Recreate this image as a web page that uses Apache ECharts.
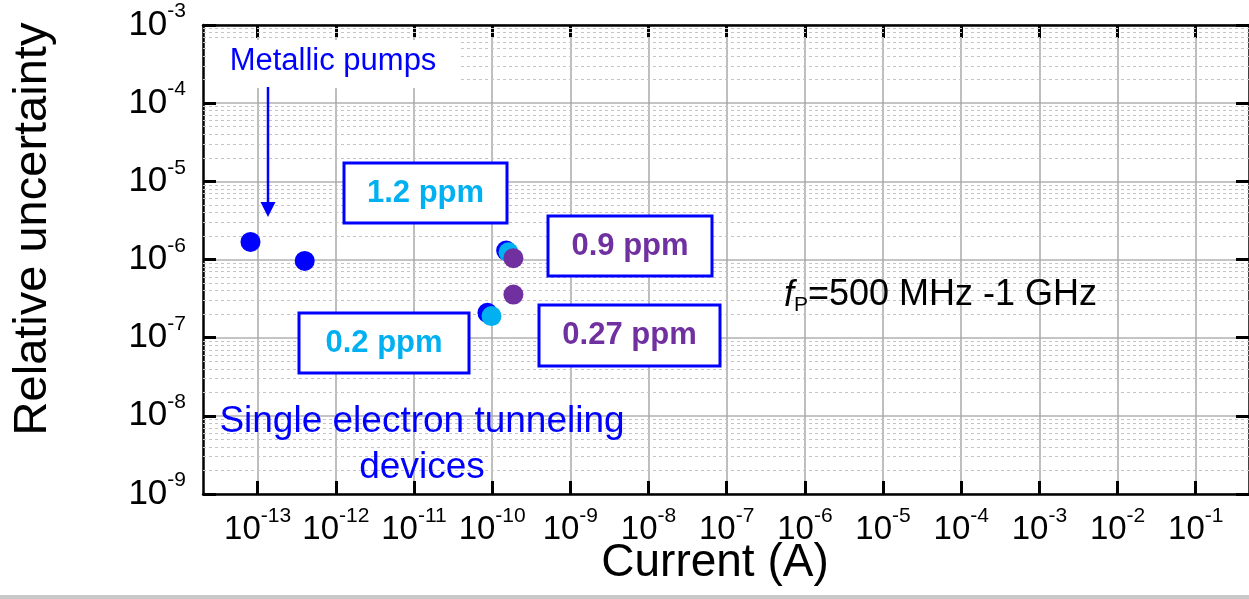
<!DOCTYPE html>
<html>
<head>
<meta charset="utf-8">
<script src="https://cdn.jsdelivr.net/npm/echarts@6/dist/echarts.min.js"></script>
<style>
html,body{margin:0;padding:0;background:#fff;}
#chart{width:1249px;height:599px;}
</style>
</head>
<body>
<div id="chart"></div>
<script>
// ---- data ----
const blueCurrent   = [8.1e-14, 4.0e-13, 1.51e-10, 8.7e-11];
const blueUncert    = [1.68e-6, 9.6e-7, 1.30e-6, 2.08e-7];
const cyanCurrent   = [1.62e-10, 9.8e-11];
const cyanUncert    = [1.24e-6, 1.89e-7];
const purpleCurrent = [1.87e-10, 1.87e-10];
const purpleUncert  = [1.04e-6, 3.56e-7];

const xMin = 2e-14, xMax = 0.48;
const yMin = 1e-9, yMax = 1e-3;
const xTickValues = [1e-13, 1e-12, 1e-11, 1e-10, 1e-9, 1e-8, 1e-7, 1e-6, 1e-5, 1e-4, 1e-3, 1e-2, 1e-1];
const minorFactors = [2, 3, 4, 5, 6, 7, 8, 9];
const yDecades = [-9, -8, -7, -6, -5, -4];

const boxLabels = ['1.2 ppm', '0.2 ppm', '0.9 ppm', '0.27 ppm'];
const xTitle = 'Current (A)';
const yTitle = 'Relative uncertainty';

const FONT = "'Liberation Sans', Arial, Helvetica, sans-serif";
const BLUE = '#0000ff', CYAN = '#00b0f0', PURPLE = '#7030a0';

function pairs(xs, ys) { return xs.map((x, i) => [x, ys[i]]); }
function powLabel(v) {
  const l = Math.log10(v);
  const e = Math.round(l);
  if (Math.abs(l - e) > 1e-6) return '';
  return '{b|10}{s|' + e + '}';
}
// dashed minor grid lines at 2..9 x 10^n, spanning the full x range
const minorLines = [];
yDecades.forEach(d => minorFactors.forEach(k => {
  const v = k * Math.pow(10, d);
  minorLines.push([{ coord: [xMin, v] }, { coord: [xMax, v] }]);
}));

function richFor(size) {
  return {
    b: { fontSize: size, fontFamily: FONT, color: '#000', lineHeight: 48 },
    s: { fontSize: 21, fontFamily: FONT, color: '#000', lineHeight: 21, verticalAlign: 'top' }
  };
}

const chart = echarts.init(document.getElementById('chart'), null, { renderer: 'canvas' });

function boxLabel(cx, cy, w, h, text, color) {
  return {
    type: 'group', z: 20,
    children: [
      { type: 'rect', z: 20, shape: { x: cx - w / 2, y: cy - h / 2, width: w, height: h },
        style: { fill: '#fff', stroke: BLUE, lineWidth: 3 } },
      { type: 'text', z: 21, x: cx, y: cy,
        style: { text: text, fill: color, font: 'bold 31px ' + FONT,
                 align: 'center', verticalAlign: 'middle', textAlign: 'center', textVerticalAlign: 'middle' } }
    ]
  };
}

const axisLineStyle = { show: true, onZero: false, lineStyle: { color: '#000', width: 2.5 } };
const tickStyle = { color: '#000', width: 3 };

const option = {
  animation: false,
  backgroundColor: '#fff',
  grid: { left: 203, top: 25, right: -2, bottom: 105, containLabel: false },
  xAxis: [
    {
      type: 'log', logBase: 10, min: xMin, max: xMax, position: 'bottom',
      axisLine: axisLineStyle,
      axisTick: { show: true, inside: true, length: 13, customValues: xTickValues, lineStyle: tickStyle },
      axisLabel: { show: true, margin: 12, customValues: xTickValues, formatter: powLabel, rich: richFor(33) },
      splitLine: { show: true, lineStyle: { color: '#a8a8a8', width: 1.5 } }
    },
    {
      type: 'log', logBase: 10, min: xMin, max: xMax, position: 'top',
      axisLine: axisLineStyle,
      axisTick: { show: true, inside: true, length: 13, customValues: xTickValues, lineStyle: tickStyle },
      axisLabel: { show: false },
      splitLine: { show: false }
    }
  ],
  yAxis: [
    {
      type: 'log', logBase: 10, min: yMin, max: yMax, interval: 1, position: 'left',
      axisLine: axisLineStyle,
      axisTick: { show: true, inside: true, length: 13, lineStyle: tickStyle },
      axisLabel: { show: true, margin: 17, formatter: powLabel, rich: richFor(35) },
      splitLine: { show: true, lineStyle: { color: '#b0b0b0', width: 1.5 } }
    },
    {
      type: 'log', logBase: 10, min: yMin, max: yMax, interval: 1, position: 'right',
      axisLine: axisLineStyle,
      axisTick: { show: true, inside: true, length: 13, lineStyle: tickStyle },
      axisLabel: { show: false },
      splitLine: { show: false }
    }
  ],
  series: [
    { name: 'blue', type: 'scatter', z: 10, symbolSize: 20,
      itemStyle: { color: BLUE, opacity: 1 }, data: pairs(blueCurrent, blueUncert),
      markLine: {
        z: 1, silent: true, symbol: ['none', 'none'], animation: false,
        label: { show: false },
        emphasis: { disabled: true },
        lineStyle: { color: '#c4c4c4', width: 1, type: [3, 3] },
        data: minorLines
      } },
    { name: 'cyan', type: 'scatter', z: 11, symbolSize: 20,
      itemStyle: { color: CYAN, opacity: 1 }, data: pairs(cyanCurrent, cyanUncert) },
    { name: 'purple', type: 'scatter', z: 12, symbolSize: 20,
      itemStyle: { color: PURPLE, opacity: 1 }, data: pairs(purpleCurrent, purpleUncert) }
  ],
  graphic: [
    { type: 'rect', z: 20, shape: { x: 207, y: 40, width: 251, height: 48 }, style: { fill: '#fff' } },
    { type: 'text', z: 21, x: 333, y: 61,
      style: { text: 'Metallic pumps', fill: BLUE, font: '31px ' + FONT,
               align: 'center', verticalAlign: 'middle', textAlign: 'center', textVerticalAlign: 'middle' } },
    { type: 'line', z: 21, shape: { x1: 268, y1: 87, x2: 268, y2: 204 }, style: { stroke: BLUE, lineWidth: 2.5 } },
    { type: 'polygon', z: 21, shape: { points: [[260.5, 202], [275.5, 202], [268, 217]] }, style: { fill: BLUE } },
    { type: 'text', z: 21, x: 422, y: 445,
      style: { text: 'Single electron tunneling\ndevices', fill: BLUE, font: '37px ' + FONT, lineHeight: 46,
               align: 'center', verticalAlign: 'middle', textAlign: 'center', textVerticalAlign: 'middle' } },
    boxLabel(425.5, 193, 163, 60, boxLabels[0], CYAN),
    boxLabel(384, 343, 170, 60, boxLabels[1], CYAN),
    boxLabel(630, 246, 164, 60, boxLabels[2], PURPLE),
    boxLabel(629.5, 335.5, 181, 61, boxLabels[3], PURPLE),
    { type: 'text', z: 21, x: 784, y: 295.5,
      style: {
        text: '{i|f}{sub|P}{n|=500 MHz -1 GHz}',
        align: 'left', verticalAlign: 'middle', textAlign: 'left', textVerticalAlign: 'middle',
        rich: {
          i: { fontStyle: 'italic', fontSize: 36, fontFamily: FONT, fill: '#000', lineHeight: 40 },
          sub: { fontSize: 21, fontFamily: FONT, fill: '#000', lineHeight: 27, verticalAlign: 'bottom' },
          n: { fontSize: 36, fontFamily: FONT, fill: '#000', lineHeight: 40 }
        }
      } },
    { type: 'text', z: 21, x: 715, y: 563,
      style: { text: xTitle, fill: '#000', font: '46px ' + FONT,
               align: 'center', verticalAlign: 'middle', textAlign: 'center', textVerticalAlign: 'middle' } },
    { type: 'text', z: 21, x: 33, y: 229, rotation: Math.PI / 2,
      style: { text: yTitle, fill: '#000', font: '47px ' + FONT,
               align: 'center', verticalAlign: 'middle', textAlign: 'center', textVerticalAlign: 'middle' } },
    { type: 'rect', z: 21, shape: { x: 0, y: 595, width: 1249, height: 4 }, style: { fill: '#c8c8c8' } }
  ]
};
chart.setOption(option);
</script>
</body>
</html>
